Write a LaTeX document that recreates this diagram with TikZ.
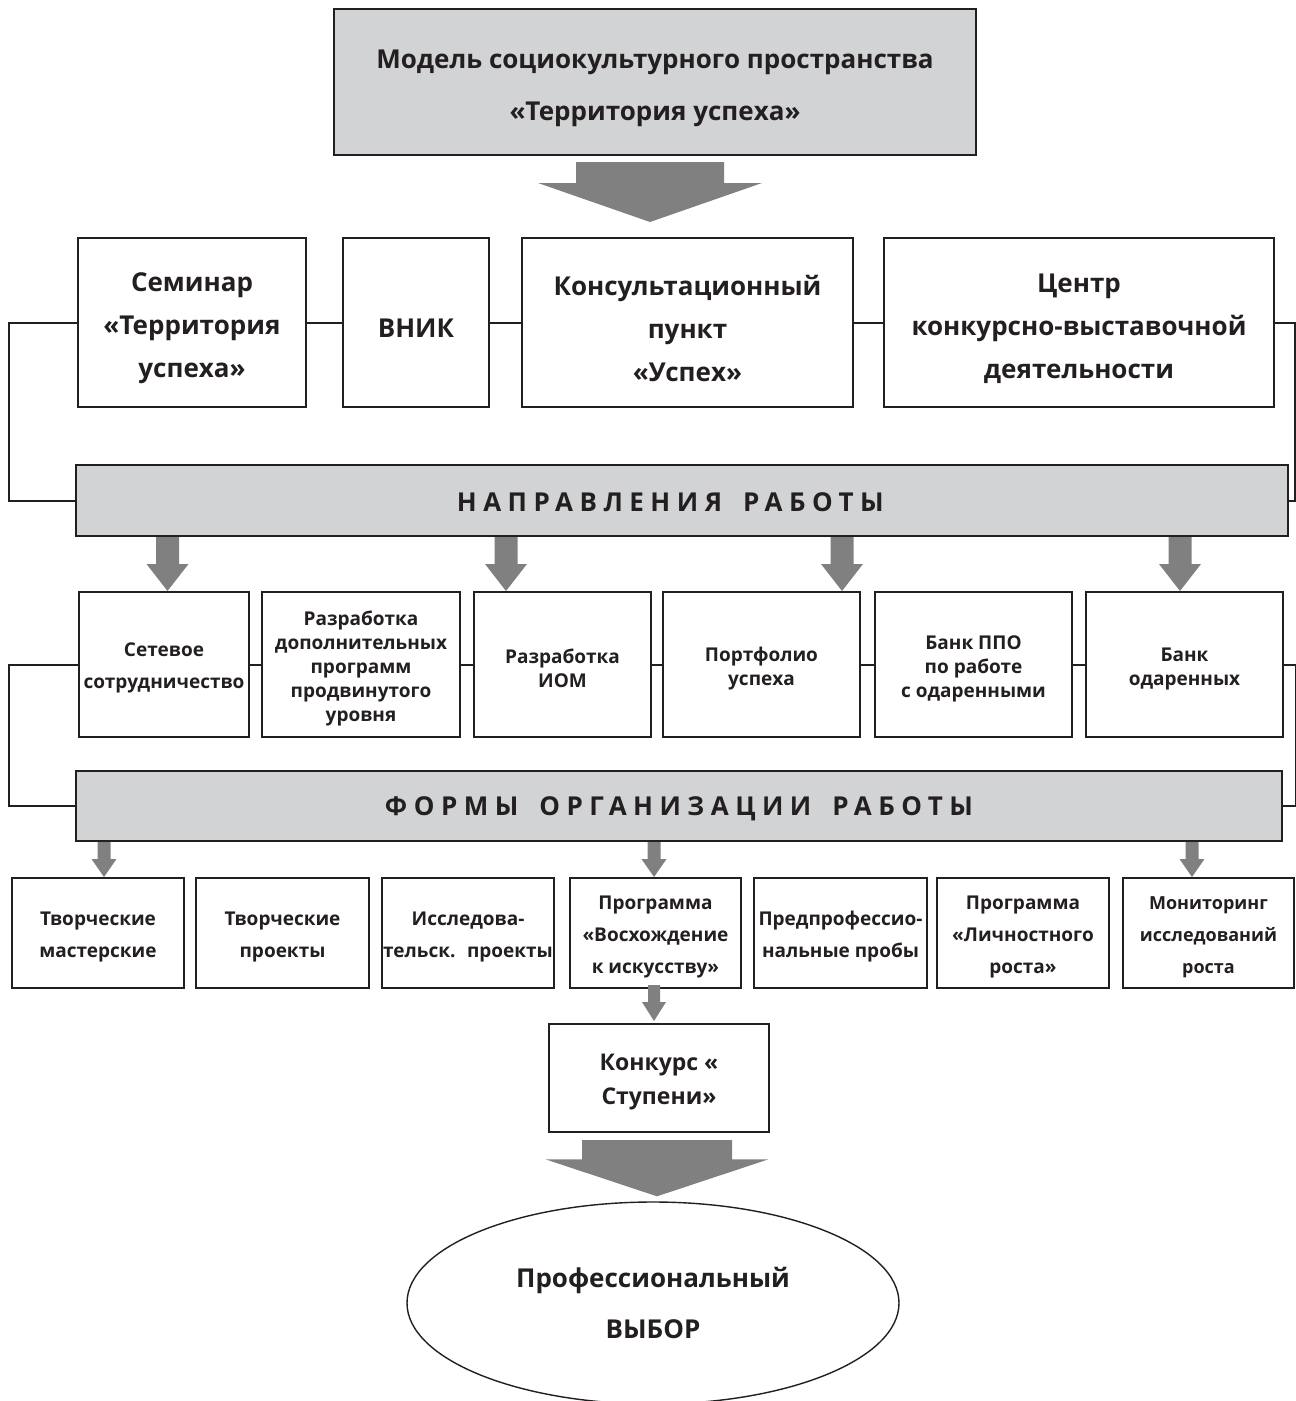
\documentclass[tikz,border=0pt]{standalone}
\usepackage{fontspec}
\setmainfont{Open Sans}
\usetikzlibrary{calc,shapes.geometric}
\definecolor{bannergray}{HTML}{D1D3D4}
\definecolor{arrgray}{HTML}{808080}
\definecolor{ink}{HTML}{231F20}
% #1 x, #2 start anchor, #3 end anchor, #4 start gap, #5 end gap, #6 shaft half width, #7 head half width, #8 head length
\newcommand\blockarr[8]{%
  \fill[arrgray] let \p1=(#2), \p2=(#3) in
    ({#1pt-#6pt},{\y1-(#4pt)}) -- ({#1pt+#6pt},{\y1-(#4pt)}) --
    ({#1pt+#6pt},{\y2+#5pt+#8pt}) -- ({#1pt+#7pt},{\y2+#5pt+#8pt}) --
    ({#1pt},{\y2+#5pt}) --
    ({#1pt-#7pt},{\y2+#5pt+#8pt}) -- ({#1pt-#6pt},{\y2+#5pt+#8pt}) -- cycle;}
\tikzset{
  box/.style={draw=ink, line width=2pt, fill=white, inner sep=0pt},
  graybox/.style={box, fill=bannergray},
  txt/.style={align=center, text=ink, inner sep=0pt},
  topt/.style={txt, yshift=-6pt, font=\fontsize{26}{52}\selectfont\bfseries},
  onet/.style={txt, yshift=-6pt, font=\fontsize{26}{43}\selectfont\bfseries},
  twot/.style={txt, yshift=-4pt, font=\fontsize{19}{24}\selectfont\bfseries},
  threet/.style={txt, yshift=-4pt, font=\fontsize{19}{32}\selectfont\bfseries},
  bant/.style={txt, font=\fontsize{26}{30}\selectfont\bfseries},
  conn/.style={draw=ink, line width=2pt},
}
\begin{document}
\begin{tikzpicture}[x=1pt,y=-1pt]
\clip (0,0) rectangle (1296,1401);
\fill[white] (0,0) rectangle (1296,1401);

% top
\node[graybox, minimum width=642pt, minimum height=146pt,
  label={[topt]center:{Модель социокультурного пространства\\«Территория успеха»}}] (top) at (655,82) {};

% row 1
\node[box, minimum width=228pt, minimum height=169pt, label={[onet]center:{Семинар\\«Территория\\успеха»}}] (sem) at (192,322.5) {};
\node[box, minimum width=146pt, minimum height=169pt, label={[onet]center:{ВНИК}}] (vnik) at (416,322.5) {};
\node[box, minimum width=331pt, minimum height=169pt, label={[onet]center:{Консультационный\\пункт\\«Успех»}}] (kons) at (687.5,322.5) {};
\node[box, minimum width=390pt, minimum height=169pt, label={[onet]center:{Центр\\конкурсно-выставочной\\деятельности}}] (centr) at (1079,322.5) {};

% banner 1
\node[graybox, minimum width=1212pt, minimum height=71pt,
  label={[bant, yshift=-2pt]center:{\addfontfeature{LetterSpace=25}НАПРАВЛЕНИЯ\hspace{0.3em} РАБОТЫ\hspace{0.9em}}}] (napr) at (682,500.5) {};

% row 2
\node[box, minimum width=170pt, minimum height=145pt, label={[twot, yshift=1pt, font=\fontsize{19}{32}\selectfont\bfseries]center:{Сетевое\\сотрудничество}}] (set) at (164,664.5) {};
\node[box, minimum width=198pt, minimum height=145pt, label={[twot]center:{Разработка\\дополнительных\\программ\\продвинутого\\уровня}}] (razr) at (361,664.5) {};
\node[box, minimum width=177pt, minimum height=145pt, label={[twot]center:{Разработка\\ИОМ}}] (iom) at (562.5,664.5) {};
\node[box, minimum width=197pt, minimum height=145pt, label={[twot]center:{Портфолио\\успеха}}] (port) at (761.5,664.5) {};
\node[box, minimum width=197pt, minimum height=145pt, label={[twot]center:{Банк ППО\\по работе\\с одаренными}}] (bppo) at (973.5,664.5) {};
\node[box, minimum width=197pt, minimum height=145pt, label={[twot]center:{Банк\\одаренных}}] (bodar) at (1184.5,664.5) {};

% banner 2
\node[graybox, minimum width=1206pt, minimum height=70pt,
  label={[bant, yshift=-3pt]center:{\addfontfeature{LetterSpace=25}ФОРМЫ\hspace{0.3em} ОРГАНИЗАЦИИ\hspace{0.3em} РАБОТЫ}}] (form) at (679,806) {};

% row 3
\node[box, minimum width=172pt, minimum height=110pt, label={[threet]center:{Творческие\\мастерские}}] (tm) at (98,933) {};
\node[box, minimum width=173pt, minimum height=110pt, label={[threet]center:{Творческие\\проекты}}] (tp) at (282.5,933) {};
\node[box, minimum width=172pt, minimum height=110pt, label={[threet]center:{Исследова-\\тельск.~ проекты}}] (isl) at (468,933) {};
\node[box, minimum width=171pt, minimum height=110pt, label={[threet]center:{Программа\\«Восхождение\\к искусству»}}] (vos) at (655.5,933) {};
\node[box, minimum width=173pt, minimum height=110pt, label={[threet]center:{Предпрофессио-\\нальные пробы}}] (pred) at (840.5,933) {};
\node[box, minimum width=172pt, minimum height=110pt, label={[threet]center:{Программа\\«Личностного\\роста»}}] (lich) at (1023,933) {};
\node[box, minimum width=171pt, minimum height=110pt, label={[threet, font=\fontsize{18}{32}\selectfont\bfseries]center:{Мониторинг\\исследований\\роста}}] (mon) at (1208.5,933) {};

% contest
\node[box, minimum width=220pt, minimum height=108pt,
  label={[txt, yshift=-4pt, font=\fontsize{23}{34}\selectfont\bfseries]center:{Конкурс «\\Ступени»}}] (konk) at (659,1078) {};

% ellipse
\node[draw=ink, line width=1.4pt, ellipse, minimum width=492pt, minimum height=202pt, inner sep=0pt,
  label={[txt, font=\fontsize{26}{51}\selectfont\bfseries]center:{Профессиональный\\ВЫБОР}}] (vyb) at (653,1303) {};

% connectors row 1
\draw[conn] (sem.east) -- (vnik.west);
\draw[conn] (vnik.east) -- (kons.west);
\draw[conn] (kons.east) -- (centr.west);
\draw[conn] (sem.west) -- ++(-68,0) |- (napr.west);
\draw[conn] (centr.east) -- ++(20,0) |- (napr.east);

% connectors row 2
\draw[conn] (set.east) -- (razr.west);
\draw[conn] (razr.east) -- (iom.west);
\draw[conn] (iom.east) -- (port.west);
\draw[conn] (port.east) -- (bppo.west);
\draw[conn] (bppo.east) -- (bodar.west);
\draw[conn] (set.west) -- ++(-69,0) |- (form.west);
\draw[conn] (bodar.east) -- ++(12,0) |- (form.east);

% block arrows
\blockarr{650}{top.south}{sem.north}{6}{15}{74}{112}{39}
\blockarr{167.5}{napr.south}{set.north}{0}{0}{11.5}{21}{27}
\blockarr{506}{napr.south}{set.north}{0}{0}{11.5}{21}{27}
\blockarr{842}{napr.south}{set.north}{0}{0}{11.5}{21}{27}
\blockarr{1180}{napr.south}{set.north}{0}{0}{11.5}{21}{27}
\blockarr{104}{form.south}{tm.north}{0}{0}{6.5}{12.5}{18}
\blockarr{654}{form.south}{tm.north}{0}{0}{6.5}{12.5}{18}
\blockarr{1192}{form.south}{tm.north}{0}{0}{6.5}{12.5}{18}
\blockarr{654}{vos.south}{konk.north}{-4}{2}{6}{12}{19}
\blockarr{657}{konk.south}{vyb.north}{7}{5}{75}{111.5}{37}
\end{tikzpicture}
\end{document}
